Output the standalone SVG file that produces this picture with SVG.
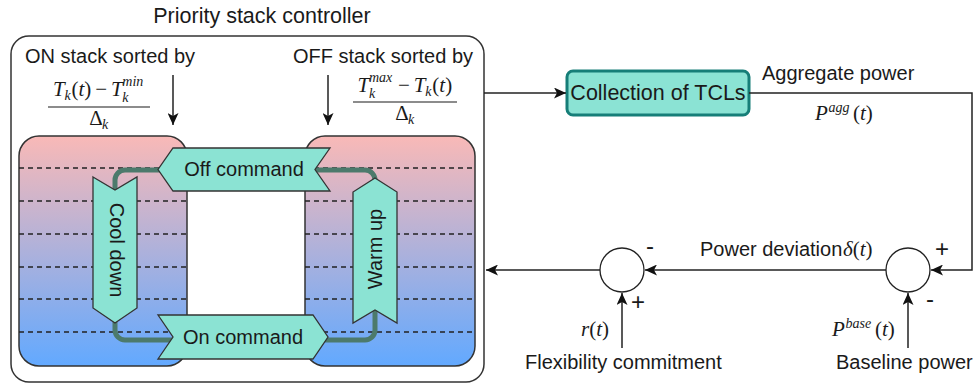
<svg xmlns="http://www.w3.org/2000/svg" width="975" height="385" viewBox="0 0 975 385">
  <defs>
    <linearGradient id="stackFill" x1="0" y1="0" x2="0" y2="1">
      <stop offset="0" stop-color="#F9B9B7"/>
      <stop offset="1" stop-color="#62A9FF"/>
    </linearGradient>
    <marker id="arrow" markerUnits="userSpaceOnUse" markerWidth="13" markerHeight="11" refX="12" refY="5.5" orient="auto">
      <path d="M0,0 L12,5.5 L0,11 L3,5.5 Z" fill="#111"/>
    </marker>
  </defs>
  <style>
    .lbl { font-family: "Liberation Sans", Arial, sans-serif; font-size: 20px; fill: #1a1a1a; }
    .big { font-size: 21.5px; }
    .sign { font-family: "Liberation Sans", Arial, sans-serif; font-size: 24px; fill: #1a1a1a; }
    .mid { text-anchor: middle; }
    .mi { font-family: "Liberation Serif", "Times New Roman", serif; font-style: italic; font-size: 21px; fill: #1a1a1a; }
    .mr { font-style: normal; }
    .sm { font-size: 14px; }
    .stack { fill: url(#stackFill); stroke: #333; stroke-width: 1.5; }
    .dash { stroke: #222; stroke-width: 1.3; stroke-dasharray: 5 4; fill: none; }
    .cmd { fill: #8BE3D3; stroke: #333; stroke-width: 1.3; stroke-linejoin: miter; }
    .wire { stroke: #222; stroke-width: 1.5; fill: none; }
    .bar { stroke: #1a1a1a; stroke-width: 1.2; }
    .sum { fill: #fff; stroke: #222; stroke-width: 1.3; }
  </style>

  <rect width="975" height="385" fill="#fff"/>

  <!-- Priority stack controller -->
  <g id="controller">
    <rect x="11" y="36" width="473" height="346" rx="18" fill="#fff" stroke="#333" stroke-width="1.5"/>
    <text class="lbl big mid" x="262" y="23">Priority stack controller</text>
    <text class="lbl" x="25" y="63">ON stack sorted by</text>
    <text class="lbl" x="293" y="63">OFF stack sorted by</text>
  </g>

  <!-- ON stack ordering key: (T_k(t) - T_k^min) / Delta_k -->
  <g id="on-key">
    <text class="mi" y="96"><tspan x="53">T</tspan><tspan class="sm" x="64.5" y="100">k</tspan><tspan class="mr" x="71.5" y="96">(</tspan>t<tspan class="mr">)</tspan><tspan class="mr" x="95.3">−</tspan><tspan x="111">T</tspan><tspan class="sm" x="122.3" y="86">min</tspan><tspan class="sm" x="122.3" y="102">k</tspan></text>
    <line class="bar" x1="48" y1="107" x2="150" y2="107"/>
    <text class="mi" y="125"><tspan class="mr" x="89.2">Δ</tspan><tspan class="sm" x="102" y="129">k</tspan></text>
  </g>

  <!-- OFF stack ordering key: (T_k^max - T_k(t)) / Delta_k -->
  <g id="off-key">
    <text class="mi" y="92"><tspan x="357.5">T</tspan><tspan class="sm" x="369" y="82">max</tspan><tspan class="sm" x="369" y="98">k</tspan><tspan class="mr" x="398" y="92">−</tspan><tspan x="413.8">T</tspan><tspan class="sm" x="425.3" y="96">k</tspan><tspan class="mr" x="432.3" y="92">(</tspan>t<tspan class="mr">)</tspan></text>
    <line class="bar" x1="353" y1="102" x2="457" y2="102"/>
    <text class="mi" y="120"><tspan class="mr" x="395.2">Δ</tspan><tspan class="sm" x="408" y="124">k</tspan></text>
  </g>

  <!-- ON stack -->
  <g id="on-stack">
    <rect class="stack" x="19" y="136" width="168" height="230" rx="20"/>
    <path class="dash" d="M19,168H187M19,201H187M19,234H187M19,267H187M19,299H187M19,332H187"/>
  </g>

  <!-- OFF stack -->
  <g id="off-stack">
    <rect class="stack" x="305" y="136" width="170" height="230" rx="20"/>
    <path class="dash" d="M305,168H475M305,201H475M305,234H475M305,267H475M305,299H475M305,332H475"/>
  </g>

  <!-- switching cycle between the two stacks -->
  <g id="cycle">
    <rect x="115" y="170" width="260" height="170" rx="10" fill="none" stroke="#4C7A6C" stroke-width="5"/>
  </g>

  <g id="off-command">
    <polygon class="cmd" points="173,148 330,148 315,169.5 330,191 173,191 158,169.5"/>
    <text class="lbl mid" x="244" y="176">Off command</text>
  </g>

  <g id="on-command">
    <polygon class="cmd" points="158,315 313,315 328,337 313,359 158,359 173,337"/>
    <text class="lbl mid" x="243" y="344">On command</text>
  </g>

  <g id="cool-down">
    <polygon class="cmd" points="93,177 115,190 137,177 137,308 115,323 93,308"/>
    <text class="lbl mid" transform="translate(110,250) rotate(90)">Cool down</text>
  </g>

  <g id="warm-up">
    <polygon class="cmd" points="375,178 397,192 397,323 375,310 353,323 353,192"/>
    <text class="lbl mid" transform="translate(382,249) rotate(-90)">Warm up</text>
  </g>

  <!-- Collection of TCLs -->
  <g id="tcls">
    <rect x="567" y="71" width="182" height="44" rx="6" fill="#8BE3D4" stroke="#167E78" stroke-width="3"/>
    <text class="lbl big mid" x="658" y="100">Collection of TCLs</text>
  </g>

  <!-- summing junctions -->
  <g id="sum-right">
    <circle class="sum" cx="908" cy="270" r="22"/>
    <text class="sign" x="935" y="257">+</text>
    <text class="sign" x="926" y="307">-</text>
  </g>

  <g id="sum-left">
    <circle class="sum" cx="622" cy="270" r="22"/>
    <text class="sign" x="646" y="254">-</text>
    <text class="sign" x="631" y="310">+</text>
  </g>

  <!-- signal labels -->
  <g id="signal-labels">
    <text class="lbl" x="762" y="80">Aggregate power</text>
    <text class="mi" y="120"><tspan x="815">P</tspan><tspan class="sm" x="828.5" y="112">agg</tspan><tspan class="mr" x="853" y="120">(</tspan>t<tspan class="mr">)</tspan></text>

    <text class="lbl" x="700" y="256">Power deviation</text>
    <text class="mi" x="843" y="256">δ<tspan class="mr">(</tspan>t<tspan class="mr">)</tspan></text>

    <text class="mi" x="581" y="336">r<tspan class="mr">(</tspan>t<tspan class="mr">)</tspan></text>
    <text class="mi" y="336"><tspan x="832">P</tspan><tspan class="sm" x="845.5" y="328">base</tspan><tspan class="mr" x="875" y="336">(</tspan>t<tspan class="mr">)</tspan></text>

    <text class="lbl" x="525" y="369">Flexibility commitment</text>
    <text class="lbl" x="836" y="369">Baseline power</text>
  </g>

  <!-- connectors -->
  <g id="connectors">
    <line class="wire" x1="173" y1="75" x2="173" y2="125" marker-end="url(#arrow)"/>
    <line class="wire" x1="328" y1="75" x2="328" y2="125" marker-end="url(#arrow)"/>
    <line class="wire" x1="484" y1="93" x2="566" y2="93" marker-end="url(#arrow)"/>
    <polyline class="wire" points="749,93 972,93 972,270 931,270" marker-end="url(#arrow)"/>
    <line class="wire" x1="886" y1="270" x2="645" y2="270" marker-end="url(#arrow)"/>
    <line class="wire" x1="600" y1="270" x2="486" y2="270" marker-end="url(#arrow)"/>
    <line class="wire" x1="622" y1="348" x2="622" y2="293" marker-end="url(#arrow)"/>
    <line class="wire" x1="908" y1="348" x2="908" y2="293" marker-end="url(#arrow)"/>
  </g>
</svg>
